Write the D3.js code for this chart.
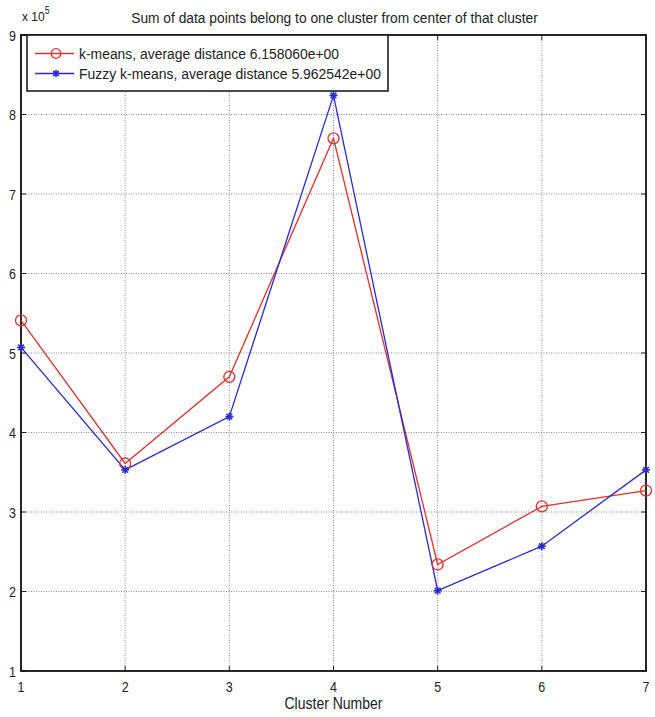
<!DOCTYPE html>
<html><head><meta charset="utf-8">
<script src="https://cdn.jsdelivr.net/npm/d3@7"></script>
<style>body{margin:0;background:#fff;} svg{display:block;} text{font-family:"Liberation Sans",Arial,sans-serif;fill:#222;}</style>
</head><body><svg id="c" width="655" height="717"></svg>
<script>
const clusters = [1,2,3,4,5,6,7];
const kmeans = [5.41,3.61,4.70,7.70,2.34,3.07,3.27];
const fuzzy  = [5.07,3.53,4.20,8.24,2.01,2.57,3.53];
const yTicks = [1,2,3,4,5,6,7,8,9];
const seriesNames = ["k-means, average distance 6.158060e+00","Fuzzy k-means, average distance 5.962542e+00"];
const titleText = "Sum of data points belong to one cluster from center of that cluster";
const xLabel = "Cluster Number";

const svg = d3.select("#c");
const L=21,R=646,T=35,B=671;
const x = d3.scaleLinear().domain([1,7]).range([L,R]);
const y = d3.scaleLinear().domain([1,9]).range([B,T]);

function stxt(sel,tx,ty,size,anchor,txt,sy){
  const gg = sel.append("g").attr("transform",`translate(${tx},${ty}) scale(1,${sy||1.12})`);
  return gg.append("text").attr("x",0).attr("y",0).attr("font-size",size).attr("text-anchor",anchor||"start").text(txt);
}

// grid
const g = svg.append("g");
g.selectAll(".gx").data(clusters.slice(1,-1)).enter().append("line")
 .attr("x1",d=>x(d)).attr("x2",d=>x(d)).attr("y1",T).attr("y2",B)
 .attr("stroke","#8a8a8a").attr("stroke-width",1).attr("stroke-dasharray","1,1.5");
g.selectAll(".gy").data(yTicks.slice(1,-1)).enter().append("line")
 .attr("y1",d=>y(d)).attr("y2",d=>y(d)).attr("x1",L).attr("x2",R)
 .attr("stroke","#8a8a8a").attr("stroke-width",1).attr("stroke-dasharray","1,1.5");

// inward ticks
const tk=5;
clusters.forEach(d=>{
  g.append("line").attr("x1",x(d)).attr("x2",x(d)).attr("y1",B).attr("y2",B-tk).attr("stroke","#222");
  g.append("line").attr("x1",x(d)).attr("x2",x(d)).attr("y1",T).attr("y2",T+tk).attr("stroke","#222");
});
yTicks.forEach(d=>{
  g.append("line").attr("y1",y(d)).attr("y2",y(d)).attr("x1",L).attr("x2",L+tk).attr("stroke","#222");
  g.append("line").attr("y1",y(d)).attr("y2",y(d)).attr("x1",R).attr("x2",R-tk).attr("stroke","#222");
});
// box
svg.append("rect").attr("x",L).attr("y",T).attr("width",R-L).attr("height",B-T)
 .attr("fill","none").attr("stroke","#111").attr("stroke-width",1.8);

// tick labels
clusters.forEach(d=>stxt(svg,x(d),B+21,12.5,"middle",d,1.15));
yTicks.forEach(d=>stxt(svg,L-5,y(d)+5.5,12.5,"end",d,1.15));
const exg = svg.append("g").attr("transform","translate(22,21) scale(1,1.12)");
const ex = exg.append("text").attr("x",0).attr("y",0).attr("font-size",12);
ex.append("tspan").text("x 10");
ex.append("tspan").attr("dy",-6).attr("font-size",9).text("5");

stxt(svg,(L+R)/2,709,14,"middle",xLabel,1.15);
const tt = stxt(svg,(L+R)/2+1,22.5,12.5,"middle",titleText,1.12);
const tw = tt.node().getComputedTextLength();
tt.attr("font-size",12.5*407/tw);

// series
const line = d3.line().x((d,i)=>x(clusters[i])).y(d=>y(d));
const red="#e0302c", blue="#2a2ad0";
svg.append("path").datum(kmeans).attr("d",line).attr("fill","none").attr("stroke",red).attr("stroke-width",1.3);
svg.append("path").datum(fuzzy).attr("d",line).attr("fill","none").attr("stroke",blue).attr("stroke-width",1.3);

function star(sel,cx,cy,r,col){
  const gg = sel.append("g").attr("transform",`translate(${cx},${cy})`);
  [0,45,90,135].forEach(a=>{
    const rad=a*Math.PI/180;
    gg.append("line").attr("x1",-r*Math.cos(rad)).attr("y1",-r*Math.sin(rad))
      .attr("x2",r*Math.cos(rad)).attr("y2",r*Math.sin(rad)).attr("stroke",col).attr("stroke-width",1.6);
  });
}
svg.selectAll(".mk").data(kmeans).enter().append("circle")
 .attr("cx",(d,i)=>x(clusters[i])).attr("cy",d=>y(d)).attr("r",5.5)
 .attr("fill","none").attr("stroke",red).attr("stroke-width",1.3);
fuzzy.forEach((d,i)=>star(svg,x(clusters[i]),y(d),4,blue));

// legend
const lg = svg.append("g");
lg.append("rect").attr("x",27).attr("y",35).attr("width",361).attr("height",56)
 .attr("fill","#fff").attr("stroke","#111").attr("stroke-width",1.5);
const rows=[{n:seriesNames[0],c:red,m:"o",y:53.5},{n:seriesNames[1],c:blue,m:"*",y:73.5}];
const targets=[260,302];
rows.forEach((r,i)=>{
  lg.append("line").attr("x1",35).attr("x2",74).attr("y1",r.y).attr("y2",r.y).attr("stroke",r.c).attr("stroke-width",1.3);
  if(r.m==="o") lg.append("circle").attr("cx",56).attr("cy",r.y).attr("r",4.8).attr("fill","none").attr("stroke",r.c).attr("stroke-width",1.3);
  else star(lg,56,r.y,3.8,r.c);
  const t = stxt(lg,79,r.y+5.5,14,"start",r.n,1.08);
  const w=t.node().getComputedTextLength(); t.attr("font-size",14*targets[i]/w);
});
</script></body></html>
